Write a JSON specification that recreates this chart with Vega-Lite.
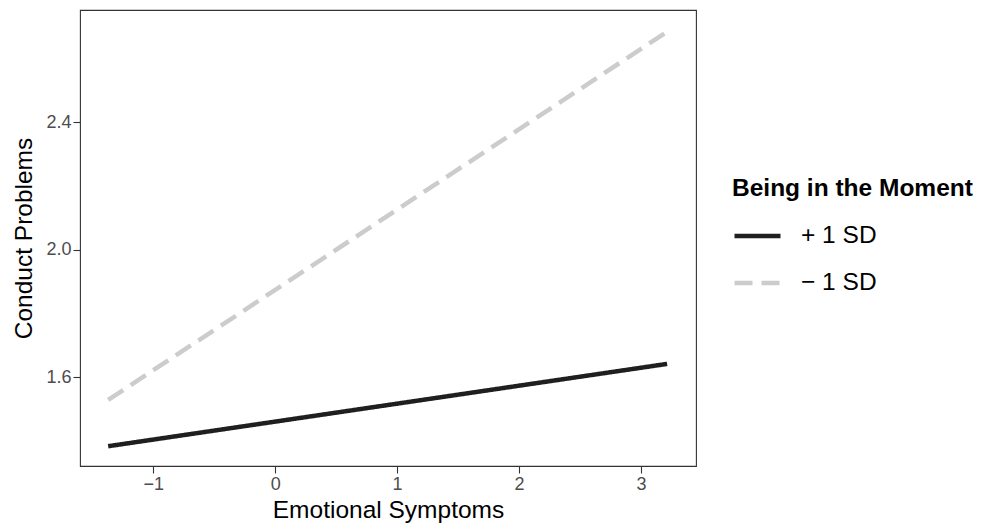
{
  "$schema": "https://vega.github.io/schema/vega-lite/v6.json",
  "width": 616,
  "height": 456,
  "autosize": {"type": "none"},
  "padding": {"left": 80, "top": 10, "right": 291, "bottom": 58},
  "background": "white",
  "config": {
    "font": "Liberation Sans",
    "view": {"stroke": "#333333", "strokeWidth": 1.1},
    "axis": {
      "grid": false,
      "domain": false,
      "tickColor": "#333333",
      "tickSize": 7,
      "tickWidth": 1.1,
      "labelColor": "#4d4d4d",
      "labelFontSize": 18,
      "labelPadding": 2,
      "titleFontSize": 24.5,
      "titleFontWeight": "normal",
      "titleColor": "#000000"
    },
    "legend": {
      "padding": 0
    }
  },
  "data": {
    "values": [
      {"es": -1.37, "cp": 1.384, "group": "+ 1 SD"},
      {"es": 3.215, "cp": 1.642, "group": "+ 1 SD"},
      {"es": -1.37, "cp": 1.529, "group": "− 1 SD"},
      {"es": 3.215, "cp": 2.683, "group": "− 1 SD"}
    ]
  },
  "mark": {"type": "line", "strokeWidth": 4.5, "strokeCap": "butt", "clip": true},
  "encoding": {
    "x": {
      "field": "es",
      "type": "quantitative",
      "title": "Emotional Symptoms",
      "scale": {"domain": [-1.601, 3.452], "nice": false, "zero": false},
      "axis": {"values": [-1, 0, 1, 2, 3], "format": "d", "titlePadding": 5}
    },
    "y": {
      "field": "cp",
      "type": "quantitative",
      "title": "Conduct Problems",
      "scale": {"domain": [1.322, 2.751], "nice": false, "zero": false},
      "axis": {"values": [1.6, 2.0, 2.4], "format": ".1f", "titlePadding": 9}
    },
    "color": {
      "field": "group",
      "type": "nominal",
      "title": "Being in the Moment",
      "scale": {"domain": ["+ 1 SD", "− 1 SD"], "range": ["#1f1f1f", "#cccccc"]},
      "legend": {
        "orient": "none",
        "legendX": 652,
        "legendY": 167,
        "symbolType": "stroke",
        "symbolSize": 2116,
        "symbolStrokeWidth": 4.5,
        "labelFontSize": 24.5,
        "labelColor": "#000000",
        "labelOffset": 18,
        "labelLimit": 300,
        "titleFontSize": 24.5,
        "titleFontWeight": "bold",
        "titleColor": "#000000",
        "titleLimit": 320,
        "titlePadding": 9,
        "rowPadding": 10
      }
    },
    "strokeDash": {
      "field": "group",
      "type": "nominal",
      "title": "Being in the Moment",
      "scale": {"domain": ["+ 1 SD", "− 1 SD"], "range": [[1, 0], [18, 9]]}
    }
  }
}
